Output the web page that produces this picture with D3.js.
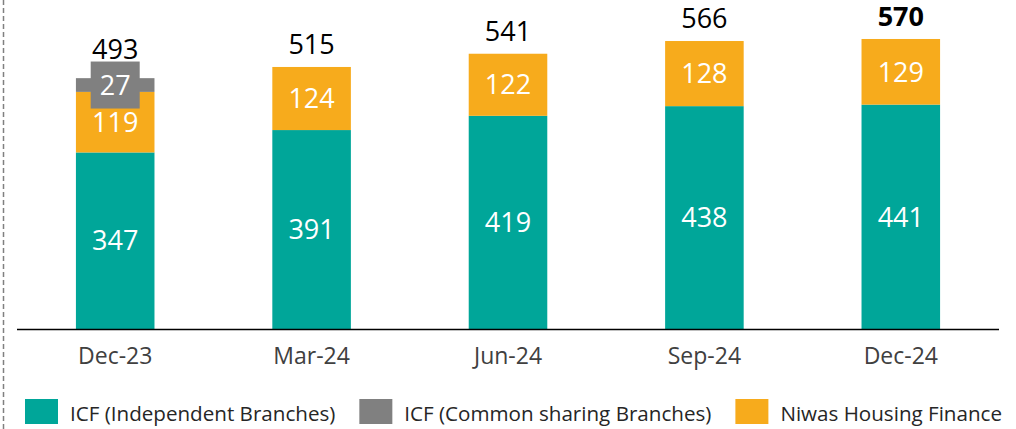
<!DOCTYPE html>
<html>
<head>
<meta charset="utf-8">
<script src="https://cdn.jsdelivr.net/npm/d3@7"></script>
<style>
  body { margin: 0; background: #fff; }
  svg { display: block; font-family: "Open Sans", sans-serif; }
</style>
</head>
<body>
<svg width="1016" height="429"></svg>
<script>
var quarters = ["Dec-23", "Mar-24", "Jun-24", "Sep-24", "Dec-24"];
var icfIndependent = [347, 391, 419, 438, 441];
var icfCommon = [27, 0, 0, 0, 0];
var niwas = [119, 124, 122, 128, 129];
var totals = [493, 515, 541, 566, 570];
var seriesNames = ["ICF (Independent Branches)", "ICF (Common sharing Branches)", "Niwas Housing Finance"];

document.addEventListener("DOMContentLoaded", function () {
  var svg = d3.select("svg");
  var colors = { ind: "#00a699", com: "#808080", niwas: "#f7ab1c" };
  var baseY = 329;

  var x = d3.scaleBand().domain(quarters).range([17, 999]).paddingInner(0.6).paddingOuter(0.3);
  var y = d3.scaleLinear().domain([0, 600]).range([baseY, baseY - 600 * 0.5088]);

  // dashed frame line on the left
  svg.append("line")
    .attr("x1", 3.5).attr("x2", 3.5).attr("y1", 0).attr("y2", 429)
    .attr("stroke", "#808080").attr("stroke-width", 1.5)
    .attr("stroke-dasharray", "5,3");

  var rows = quarters.map(function (q, i) {
    return { q: q, ind: icfIndependent[i], com: icfCommon[i], niwas: niwas[i], total: totals[i] };
  });
  var stack = d3.stack().keys(["ind", "niwas", "com"])(rows);

  var g = svg.append("g");
  stack.forEach(function (layer) {
    g.selectAll("rect." + layer.key)
      .data(layer)
      .enter()
      .append("rect")
      .attr("class", layer.key)
      .attr("x", function (d) { return x(d.data.q); })
      .attr("width", x.bandwidth())
      .attr("y", function (d) { return y(d[1]); })
      .attr("height", function (d) { return y(d[0]) - y(d[1]); })
      .attr("fill", colors[layer.key]);
  });

  // segment labels
  stack.forEach(function (layer) {
    var lg = g.append("g");
    var items = layer.filter(function (d) { return d[1] - d[0] > 0; });
    if (layer.key === "com") {
      lg.selectAll("rect")
        .data(items)
        .enter()
        .append("rect")
        .attr("x", function (d) { return x(d.data.q) + x.bandwidth() / 2 - 24.5; })
        .attr("y", function (d) { return (y(d[0]) + y(d[1])) / 2 - 23.5; })
        .attr("width", 49)
        .attr("height", 47)
        .attr("fill", colors.com);
    }
    lg.selectAll("text")
      .data(items)
      .enter()
      .append("text")
      .attr("x", function (d) { return x(d.data.q) + x.bandwidth() / 2; })
      .attr("y", function (d) { return (y(d[0]) + y(d[1])) / 2; })
      .attr("dy", "0.36em")
      .attr("text-anchor", "middle")
      .attr("fill", "#fff")
      .style("font-size", "27px")
      .text(function (d) { return d[1] - d[0]; });
  });

  // totals
  g.selectAll("text.total")
    .data(rows)
    .enter()
    .append("text")
    .attr("class", "total")
    .attr("x", function (d) { return x(d.q) + x.bandwidth() / 2; })
    .attr("y", function (d) { return y(d.total) - (d.com > 0 ? 19 : 13); })
    .attr("text-anchor", "middle")
    .attr("fill", "#000")
    .style("font-size", "27px")
    .style("font-weight", function (d, i) { return i === rows.length - 1 ? "bold" : "normal"; })
    .text(function (d) { return d.total; });

  // axis
  svg.append("line")
    .attr("x1", 17).attr("x2", 999).attr("y1", baseY + 0.5).attr("y2", baseY + 0.5)
    .attr("stroke", "#000").attr("stroke-width", 1.5);

  svg.append("g")
    .selectAll("text")
    .data(quarters)
    .enter()
    .append("text")
    .attr("x", function (d) { return x(d) + x.bandwidth() / 2; })
    .attr("y", 364)
    .attr("text-anchor", "middle")
    .attr("fill", "#404040")
    .style("font-size", "23px")
    .text(function (d) { return d; });

  // legend
  var legendColors = [colors.ind, colors.com, colors.niwas];
  var lx = 25;
  var legend = svg.append("g");
  seriesNames.forEach(function (name, i) {
    legend.append("rect")
      .attr("x", lx).attr("y", 399)
      .attr("width", 33).attr("height", 25)
      .attr("fill", legendColors[i]);
    var t = legend.append("text")
      .attr("x", lx + 45).attr("y", 421)
      .attr("fill", "#262626")
      .style("font-size", "20.6px")
      .text(name);
    lx = lx + 45 + t.node().getComputedTextLength() + 24;
  });
});
</script>
</body>
</html>
